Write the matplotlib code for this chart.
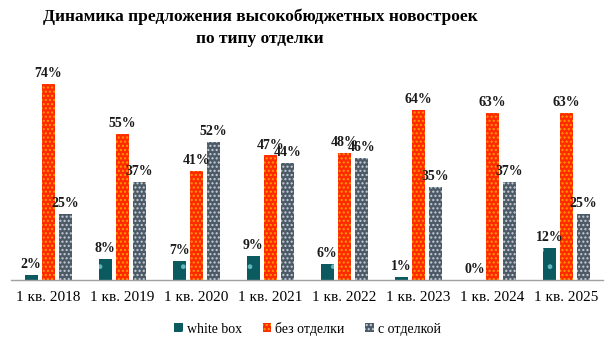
import matplotlib.pyplot as plt
import numpy as np

plt.rcParams['font.family'] = ['Liberation Serif', 'DejaVu Serif']
plt.rcParams['hatch.linewidth'] = 1.0

periods = ['1 кв. 2018', '1 кв. 2019', '1 кв. 2020', '1 кв. 2021',
           '1 кв. 2022', '1 кв. 2023', '1 кв. 2024', '1 кв. 2025']
white_box = [2, 8, 7, 9, 6, 1, 0, 12]
no_finish = [74, 55, 41, 47, 48, 64, 63, 63]
with_finish = [25, 37, 52, 44, 46, 35, 37, 25]

series = [
    ('white box', white_box, '#0b5a60', '#5fb8c0', '.'),
    ('без отделки', no_finish, '#ff2a00', '#ff9a00', '....'),
    ('с отделкой', with_finish, '#4b5a66', '#c8d0d8', '....'),
]

fig = plt.figure(figsize=(6.15, 3.5), dpi=100)
ax = fig.add_axes([0.018, 0.20, 0.963, 0.57])

x = np.arange(len(periods))
w = 0.176
offsets = [-0.23, 0, 0.23]
for (name, vals, fc, hc, hatch), off in zip(series, offsets):
    bars = ax.bar(x + off, vals, w, color=fc, edgecolor=hc, hatch=hatch,
                  linewidth=0, label=name)
    for b, v in zip(bars, vals):
        ax.text(b.get_x() + b.get_width() / 2, v + 1.5, f'{v}%',
                ha='center', va='bottom', fontsize=10, fontweight='bold',
                color='#1a1a1a')

ax.set_xlim(-0.5, len(periods) - 0.5)
ax.set_ylim(0, 75.3)
ax.set_xticks(x)
ax.set_xticklabels(periods, fontsize=11)
ax.tick_params(axis='x', length=0, pad=8)
ax.set_yticks([])
for s in ['top', 'right', 'left']:
    ax.spines[s].set_visible(False)
ax.spines['bottom'].set_color('#a0a0a0')
ax.spines['bottom'].set_linestyle((0, (1, 1)))
ax.spines['bottom'].set_linewidth(1)

fig.suptitle('Динамика предложения высокобюджетных новостроек\nпо типу отделки',
             fontsize=12.5, fontweight='bold', x=0.423, y=0.975, linespacing=1.45)

fig.legend(loc='lower center', bbox_to_anchor=(0.5, 0.005), ncol=3, frameon=False,
           fontsize=10, handlelength=0.6, handleheight=0.6, handletextpad=0.3,
           columnspacing=1.5)

fig.savefig('out.png', dpi=100)
